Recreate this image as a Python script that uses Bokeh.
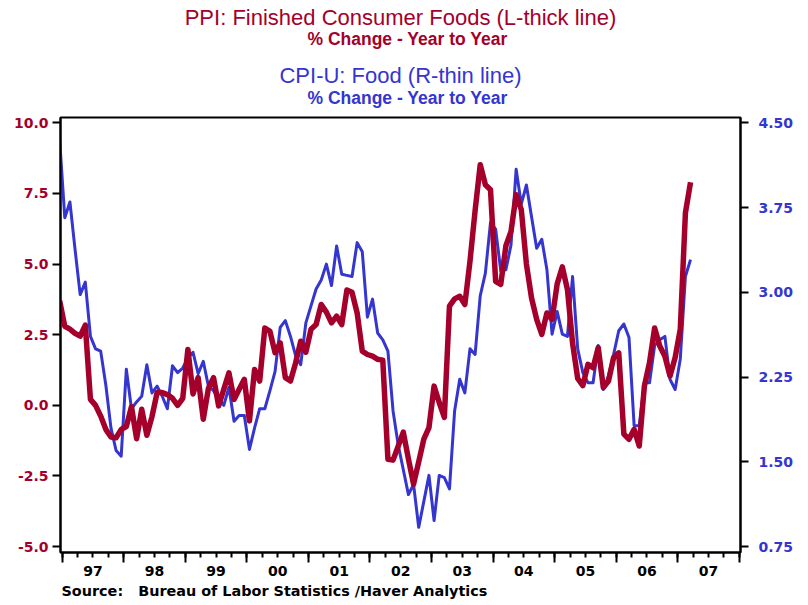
import pandas as pd
from bokeh.plotting import figure
from bokeh.models import Range1d, LinearAxis, FixedTicker, NumeralTickFormatter, Title
from bokeh.embed import file_html
from bokeh.resources import INLINE

# ---------------- data ----------------
months = pd.period_range("1996-12", "2007-03", freq="M")

ppi = [3.70,
       2.80, 2.70, 2.55, 2.45, 2.84, 0.21, 0.00, -0.38, -0.85, -1.12, -1.15, -0.85,
       -0.75, -0.05, -1.18, -0.14, -1.06, -0.40, 0.45, 0.45, 0.38, 0.25, 0.00, 0.25,
       1.98, 0.40, 0.98, -0.49, 0.60, 0.98, -0.02, 0.57, 1.15, 0.21, 0.57, 0.92,
       -0.55, 1.27, 0.86, 2.74, 2.62, 1.86, 2.21, 0.98, 0.86, 1.50, 2.27, 1.88,
       2.69, 2.86, 3.57, 3.30, 2.92, 3.16, 2.86, 4.08, 4.00, 3.27, 1.92, 1.80,
       1.74, 1.63, 1.60, -1.91, -1.94, -1.45, -0.95, -1.90, -2.79, -2.00, -1.20, -0.79,
       0.68, 0.10, -0.43, 3.51, 3.77, 3.86, 3.57, 5.10, 6.90, 8.52, 7.81, 7.63,
       4.39, 4.28, 5.65, 6.16, 7.46, 6.93, 5.00, 3.80, 3.04, 2.51, 3.27, 3.04,
       4.30, 4.90, 4.10, 2.20, 0.95, 0.70, 1.45, 1.33, 2.04, 0.63, 0.86, 1.69,
       1.86, -1.02, -1.20, -0.85, -1.44, 0.68, 1.51, 2.74, 2.10, 1.74, 1.04, 1.69,
       2.69, 6.81, 7.90]

cpi = [4.35,
       3.66, 3.80, 3.38, 2.98, 3.09, 2.61, 2.50, 2.48, 2.18, 1.80, 1.60, 1.55,
       2.32, 1.97, 2.03, 2.08, 2.36, 2.11, 2.17, 2.08, 1.97, 2.35, 2.29, 2.33,
       2.42, 2.47, 2.28, 2.39, 2.17, 2.13, 2.05, 2.00, 2.16, 1.86, 1.91, 1.91,
       1.61, 1.80, 1.97, 1.97, 2.13, 2.30, 2.69, 2.75, 2.61, 2.44, 2.36, 2.73,
       2.88, 3.03, 3.11, 3.25, 3.06, 3.41, 3.16, 3.15, 3.14, 3.44, 3.36, 2.78,
       2.94, 2.64, 2.58, 2.48, 1.95, 1.65, 1.43, 1.21, 1.30, 0.92, 1.15, 1.38,
       0.98, 1.38, 1.36, 1.26, 1.95, 2.23, 2.11, 2.50, 2.45, 2.97, 3.17, 3.62,
       3.56, 3.19, 3.20, 3.42, 4.09, 3.78, 3.95, 3.67, 3.39, 3.47, 3.20, 2.63,
       2.83, 2.63, 2.61, 3.14, 2.50, 2.29, 2.20, 2.20, 2.53, 2.14, 2.26, 2.45,
       2.66, 2.72, 2.60, 1.82, 1.82, 2.20, 2.20, 2.53, 2.58, 2.61, 2.23, 2.14,
       2.41, 3.14, 3.29]

years = list(range(1997, 2008))
year_labels = ["97", "98", "99", "00", "01", "02", "03", "04", "05", "06", "07"]
left_ticks = [-5.0, -2.5, 0.0, 2.5, 5.0, 7.5, 10.0]
right_ticks = [0.75, 1.50, 2.25, 3.00, 3.75, 4.50]

title_ppi = "PPI: Finished Consumer Foods (L-thick line)"
title_cpi = "CPI-U: Food (R-thin line)"
subtitle = "% Change - Year to Year"
source = "Source:  Bureau of Labor Statistics /Haver Analytics"

# decimal-year position at mid-month
t = [m.year + (m.month - 0.5) / 12.0 for m in months]

RED = "#A4002B"
BLUE = "#3535D0"
TICKFONT = "DejaVu Sans"
TITLEFONT = "Liberation Sans"

L0, L1 = -5.21, 10.19
p = figure(width=800, height=600,
           x_range=Range1d(1996.972, 2008.02), y_range=Range1d(L0, L1),
           output_backend="svg", toolbar_location=None,
           x_axis_type=None, y_axis_type=None,
           min_border_left=60, min_border_right=60,
           min_border_top=117, min_border_bottom=47)
p.extra_y_ranges = {"cpi": Range1d(2 + L0 / 4, 2 + L1 / 4)}
p.outline_line_color = "black"
p.outline_line_width = 2
p.background_fill_color = "white"
p.border_fill_color = "white"

# left axis (PPI)
yl = LinearAxis(ticker=FixedTicker(ticks=left_ticks),
                formatter=NumeralTickFormatter(format="0.0"),
                major_tick_out=8, major_tick_in=0, minor_tick_out=0, minor_tick_in=0,
                major_label_standoff=4, axis_line_width=2, major_tick_line_width=2,
                major_label_text_font=TICKFONT, major_label_text_font_style="bold",
                major_label_text_font_size="14px", major_label_text_color=RED)
p.add_layout(yl, "left")

# right axis (CPI)
yr = LinearAxis(y_range_name="cpi", ticker=FixedTicker(ticks=right_ticks),
                formatter=NumeralTickFormatter(format="0.00"),
                major_tick_out=8, major_tick_in=0, minor_tick_out=0, minor_tick_in=0,
                major_label_standoff=10, axis_line_width=2, major_tick_line_width=2,
                major_label_text_font=TICKFONT, major_label_text_font_style="bold",
                major_label_text_font_size="14px", major_label_text_color=BLUE)
p.add_layout(yr, "right")

# bottom axis: year-start long ticks, quarterly short ticks
quarters = [y + q / 4 for y in years + [2008] for q in range(4) if y + q / 4 <= 2008]
xa = LinearAxis(ticker=FixedTicker(ticks=[float(y) for y in years + [2008]], minor_ticks=quarters),
                major_tick_out=10, major_tick_in=0, minor_tick_out=5, minor_tick_in=0,
                major_tick_line_width=2, minor_tick_line_width=2, axis_line_width=2,
                major_label_text_font_size="1px", major_label_text_alpha=0,
                major_label_standoff=0)
p.add_layout(xa, "below")

# bottom labels at mid-year
mid = [y + 0.5 for y in years]
xb = LinearAxis(ticker=FixedTicker(ticks=mid),
                major_label_overrides={m: lab for m, lab in zip(mid, year_labels)},
                major_tick_out=0, major_tick_in=0, minor_tick_out=0, minor_tick_in=0,
                axis_line_color=None, major_label_standoff=3,
                major_label_text_font=TICKFONT, major_label_text_font_style="bold",
                major_label_text_font_size="14px", major_label_text_color="black")
p.add_layout(xb, "below")

# source line below (non-breaking spaces keep the double gap visible)
p.add_layout(Title(text=source.replace("  ", "\u00a0\u00a0\u00a0"), align="left", offset=1, standoff=4,
                   text_font=TICKFONT, text_font_style="bold", text_font_size="14.4px",
                   text_color="black"), "below")

# series
p.line(t, cpi, y_range_name="cpi", line_color=BLUE, line_width=3, line_join="round")
p.line(t, ppi, line_color=RED, line_width=5.5, line_join="round")

# header lines (first added sits closest to the frame)
def head(text, color, size, style, align, offset, standoff):
    p.add_layout(Title(text=text, align=align, offset=offset, standoff=standoff,
                       text_font=TITLEFONT, text_font_style=style,
                       text_font_size=size, text_color=color), "above")

head(subtitle, BLUE, "17.5px", "bold", "left", 247, 20)
head(title_cpi, BLUE, "22px", "normal", "center", 0, -25)
head(subtitle, RED, "17.5px", "bold", "left", 247, 49)
head(title_ppi, RED, "22px", "normal", "center", 0, -54)

open("out.html", "w").write(file_html(p, INLINE))
